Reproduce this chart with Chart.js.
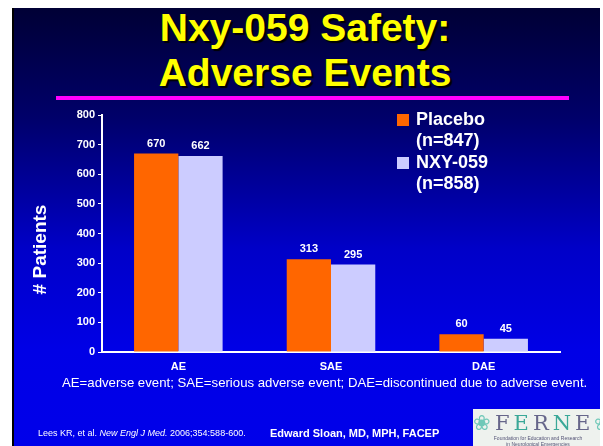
<!DOCTYPE html>
<html>
<head>
<meta charset="utf-8">
<script src="https://cdn.jsdelivr.net/npm/chart.js@4.4.0/dist/chart.umd.min.js"></script>
<style>
  html, body { margin: 0; padding: 0; background: #fff; }
  #slide {
    position: absolute; left: 12px; top: 8px; width: 586px; height: 438px;
    background: linear-gradient(to bottom, #000035 0%, #00006a 25%, #0000c8 55%, #0000e6 78%, #0000ea 100%);
    border-left: 2px solid #000;
    font-family: "Liberation Sans", Arial, sans-serif; overflow: hidden;
  }
  .title {
    position: absolute; left: -9px; width: 600px; text-align: center;
    color: #ffff00; font-weight: bold; font-size: 39px; line-height: 45px;
    text-shadow: 2px 2px 1px #000;
  }
  #rule { position: absolute; left: 42px; top: 88px; width: 513px; height: 4px; background: #ff00ff; }
  #chartWrap { position: absolute; left: -14px; top: -8px; width: 603px; height: 446px; }
  .legend { position: absolute; left: 383px; color: #fff; font-weight: bold; font-size: 18px; line-height: 21.3px; }
  .legend .sw { position: absolute; left: 0; top: 5px; width: 12px; height: 12px; }
  .legend .tx { margin-left: 19px; }
  #note { position: absolute; left: 48px; top: 367px; color: #fff; font-size: 13.2px; }
  #cite { position: absolute; left: 24px; top: 420px; color: #fff; font-size: 9px; }
  #author { position: absolute; left: 256px; top: 419px; color: #fff; font-size: 11px; font-weight: bold; }
  #logo { position: absolute; left: 459px; top: 401px; width: 130px; height: 40px; background: #eef2ee; text-align: center; }
  #logo .big { font-family: "DejaVu Serif", serif; font-size: 21px; letter-spacing: 4px; line-height: 24px; margin-top: 2px; }
  #logo .small { font-size: 5px; color: #557; line-height: 6px; }
</style>
</head>
<body>
<div id="slide">
  <div class="title" style="top:-3px">Nxy-059 Safety:</div>
  <div class="title" style="top:42px">Adverse Events</div>
  <div id="rule"></div>
  <div id="chartWrap"><canvas id="myChart" width="603" height="446"></canvas></div>
  <div id="legend"></div>
  <div id="note">AE=adverse event; SAE=serious adverse event; DAE=discontinued due to adverse event.</div>
  <div id="cite">Lees KR, et al. <i>New Engl J Med.</i> 2006;354:588-600.</div>
  <div id="author">Edward Sloan, MD, MPH, FACEP</div>
  <div id="logo"><div class="big"><span style="color:#6fc8b8">&#10048;</span><span style="color:#66668a">F</span><span style="color:#3aa898">E</span><span style="color:#66668a">R</span><span style="color:#3aa898">N</span><span style="color:#66668a">E</span><span style="color:#6fc8b8">&#10048;</span></div><div class="small">Foundation for Education and Research<br>in Neurological Emergencies</div></div>
</div>
<script>
var categories = ['AE', 'SAE', 'DAE'];
var placebo = [670, 313, 60];
var nxy059 = [662, 295, 45];
var seriesNames = [['Placebo', '(n=847)'], ['NXY-059', '(n=858)']];
var seriesColors = ['#ff6600', '#ccccff'];
var yTicks = [0, 100, 200, 300, 400, 500, 600, 700, 800];
var yTitle = '# Patients';

// html legend (two-line labels)
var legendTops = [101, 144];
var legendHtml = '';
seriesNames.forEach(function (lines, i) {
    legendHtml += '<div class="legend" style="top:' + legendTops[i] + 'px">' +
        '<span class="sw" style="background:' + seriesColors[i] + '"></span>' +
        '<div class="tx">' + lines.join('<br>') + '</div></div>';
});
document.getElementById('legend').innerHTML = legendHtml;

var FONT = '"Liberation Sans", Arial, sans-serif';

var valueLabels = {
    id: 'valueLabels',
    afterDatasetsDraw: function (chart) {
        var ctx = chart.ctx;
        ctx.save();
        ctx.fillStyle = '#ffffff';
        ctx.font = 'bold 11px ' + FONT;
        ctx.textAlign = 'center';
        ctx.textBaseline = 'middle';
        chart.data.datasets.forEach(function (ds, i) {
            chart.getDatasetMeta(i).data.forEach(function (bar, j) {
                ctx.fillText(ds.data[j], bar.x, bar.y - 10);
            });
        });
        // y axis title, sits a bit below the middle of the plot like the slide
        var a = chart.chartArea;
        ctx.translate(a.left - 61, (a.top + a.bottom) / 2 + 16);
        ctx.rotate(-Math.PI / 2);
        ctx.font = 'bold 19px ' + FONT;
        ctx.fillText(yTitle, 0, 0);
        ctx.restore();
    }
};

window.onload = function () {
    var ctx = document.getElementById('myChart').getContext('2d');
    var config = {
        type: 'bar',
        data: {
            labels: categories,
            datasets: [{
                label: seriesNames[0].join(' '),
                data: placebo,
                backgroundColor: seriesColors[0]
            }, {
                label: seriesNames[1].join(' '),
                data: nxy059,
                backgroundColor: seriesColors[1]
            }]
        },
        options: {
            responsive: false,
            animation: false,
            layout: { padding: { left: 12, top: 115, right: 43, bottom: 70 } },
            plugins: {
                legend: { display: false },
                tooltip: { enabled: false }
            },
            datasets: {
                bar: { categoryPercentage: 0.58, barPercentage: 1.0 }
            },
            scales: {
                x: {
                    grid: { display: false },
                    border: { display: true, color: '#ffffff', width: 2 },
                    ticks: {
                        color: '#ffffff', padding: 0,
                        font: { family: FONT, size: 11, weight: 'bold' }
                    },
                    afterFit: function (s) { s.height = 24; }
                },
                y: {
                    min: 0, max: 800,
                    afterBuildTicks: function (s) { s.ticks = yTicks.map(function (v) { return { value: v }; }); },
                    grid: { drawOnChartArea: false, color: '#ffffff', tickLength: 4, lineWidth: 1 },
                    border: { display: true, color: '#ffffff', width: 2 },
                    ticks: {
                        color: '#ffffff', padding: 3,
                        font: { family: FONT, size: 11, weight: 'bold' }
                    },
                    afterFit: function (s) { s.width = 90; }
                }
            }
        },
        plugins: [valueLabels]
    };
    window.myBar = new Chart(ctx, config);
};
</script>
</body>
</html>
